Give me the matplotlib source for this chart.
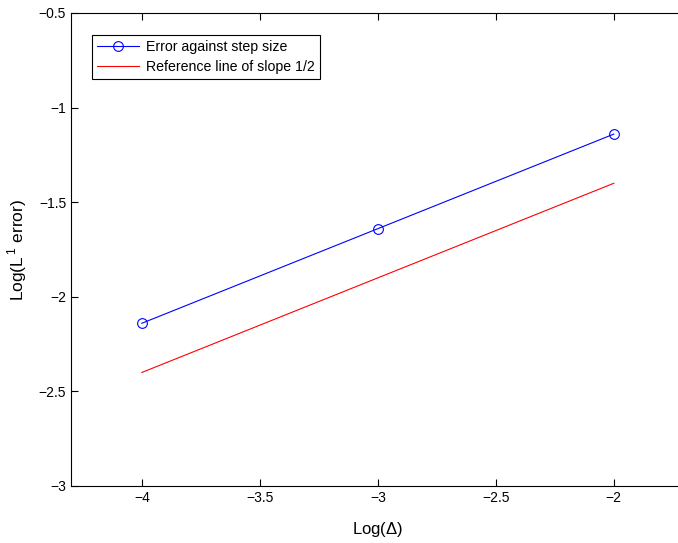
import numpy as np
import matplotlib.pyplot as plt

plt.rcParams['font.family'] = ['Liberation Sans', 'DejaVu Sans']
plt.rcParams['mathtext.fontset'] = 'custom'
plt.rcParams['mathtext.rm'] = 'Liberation Sans'

# data
log_step = [-4, -3, -2]
log_err = [-2.14, -1.64, -1.14]
ref_x = [-4, -2]
ref_y = [-2.4, -1.4]

fig = plt.figure(figsize=(6.78, 5.43), dpi=100)
ax = fig.add_axes([71/678, 57/543, 613.6/678, 473/543])

ax.plot(log_step, log_err, '-o', color='#0000ff', lw=0.8, ms=7, mfc='none',
        mew=0.8, label='Error against step size')
ax.plot(ref_x, ref_y, '-', color='#ff0000', lw=0.8, label='Reference line of slope 1/2')

ax.set_xlim(-4.3, -1.7)
ax.set_ylim(-3, -0.5)
ax.set_xticks([-4, -3.5, -3, -2.5, -2])
ax.set_yticks([-3, -2.5, -2, -1.5, -1, -0.5])
ax.set_xticklabels(['\u22124', '\u22123.5', '\u22123', '\u22122.5', '\u22122'])
ax.set_yticklabels(['\u22123', '\u22122.5', '\u22122', '\u22121.5', '\u22121', '\u22120.5'])
ax.tick_params(direction='in', top=True, right=True, labelsize=10, length=5, width=0.8)
for s in ax.spines.values():
    s.set_linewidth(0.8)

ax.set_xlabel('Log($\\Delta$)', fontsize=12, labelpad=11)
ax.set_ylabel('Log(L$^{\\,1}$ error)', fontsize=12.5)
ax.yaxis.set_label_coords(-0.068, 0.5)

leg = ax.legend(loc='upper left', bbox_to_anchor=(0.0342, 0.9535), borderaxespad=0,
                fontsize=10.2, fancybox=False, edgecolor='black', framealpha=1,
                handlelength=3.0, borderpad=0.35, labelspacing=0.45, handletextpad=0.45)
leg.get_frame().set_linewidth(0.8)

fig.savefig('out.png', dpi=100)
